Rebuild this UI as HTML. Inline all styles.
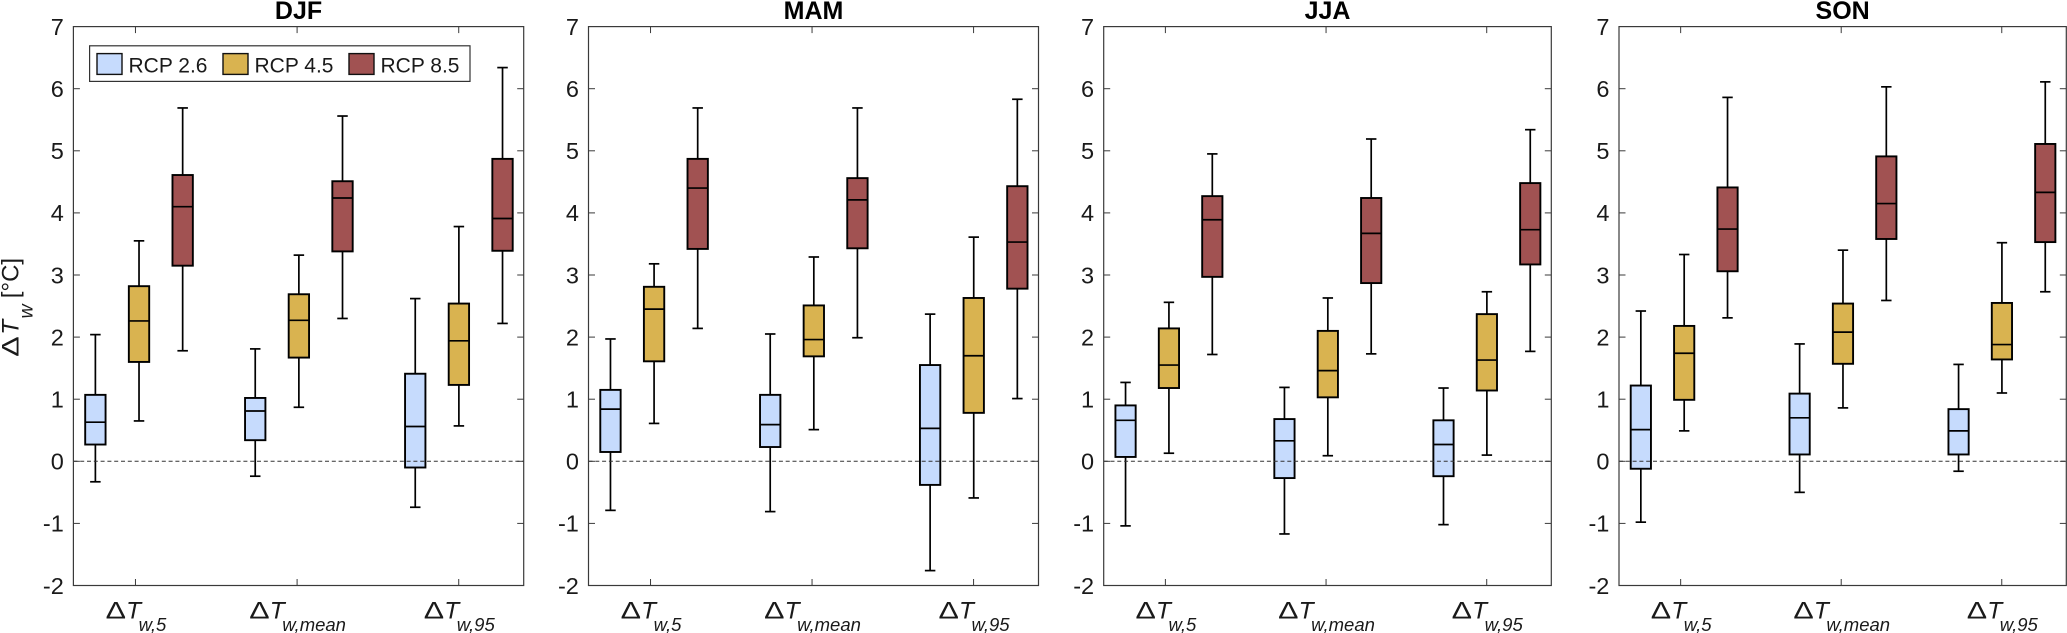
<!DOCTYPE html>
<html lang="en">
<head>
<meta charset="utf-8">
<title>Seasonal change in wet-bulb temperature by RCP scenario</title>
<style>
  html, body { margin: 0; padding: 0; background: #fff; }
  body { width: 2067px; height: 633px; overflow: hidden; }
  svg { display: block; }
  text { font-family: "Liberation Sans", Arial, sans-serif; fill: #1a1a1a; }
</style>
</head>
<body>
<svg id="chart" xmlns="http://www.w3.org/2000/svg" width="2067" height="633" viewBox="0 0 2067 633"></svg>
<script>
// Data: each row is one metric group, as [low whisker, Q1, median, Q3, high whisker]
const seasons = ['DJF', 'MAM', 'JJA', 'SON'];
const scenarios = ['RCP 2.6', 'RCP 4.5', 'RCP 8.5'];
const metricSubscripts = ['w,5', 'w,mean', 'w,95'];
const yTicks = [-2, -1, 0, 1, 2, 3, 4, 5, 6, 7];
const metricPositions = [1.022, 2.011, 3.001];
const xTicks = [1, 2, 3];

const djfRcp26 = [[-0.33, 0.27, 0.63, 1.07, 2.04], [-0.24, 0.34, 0.81, 1.02, 1.81], [-0.74, -0.10, 0.56, 1.41, 2.62]];
const djfRcp45 = [[0.65, 1.60, 2.26, 2.82, 3.55], [0.87, 1.67, 2.27, 2.69, 3.32], [0.57, 1.23, 1.94, 2.54, 3.78]];
const djfRcp85 = [[1.78, 3.15, 4.10, 4.61, 5.69], [2.30, 3.38, 4.24, 4.51, 5.56], [2.22, 3.39, 3.91, 4.87, 6.34]];

const mamRcp26 = [[-0.79, 0.15, 0.84, 1.15, 1.97], [-0.81, 0.23, 0.59, 1.07, 2.05], [-1.76, -0.38, 0.53, 1.55, 2.37]];
const mamRcp45 = [[0.61, 1.61, 2.45, 2.81, 3.18], [0.51, 1.69, 1.96, 2.51, 3.29], [-0.59, 0.78, 1.70, 2.63, 3.61]];
const mamRcp85 = [[2.14, 3.42, 4.40, 4.87, 5.69], [1.99, 3.43, 4.21, 4.56, 5.69], [1.01, 2.78, 3.53, 4.43, 5.83]];

const jjaRcp26 = [[-1.04, 0.07, 0.66, 0.90, 1.27], [-1.17, -0.27, 0.33, 0.68, 1.19], [-1.02, -0.24, 0.27, 0.66, 1.18]];
const jjaRcp45 = [[0.13, 1.18, 1.55, 2.14, 2.56], [0.09, 1.03, 1.46, 2.10, 2.63], [0.10, 1.14, 1.63, 2.37, 2.73]];
const jjaRcp85 = [[1.72, 2.97, 3.89, 4.27, 4.95], [1.73, 2.87, 3.67, 4.24, 5.19], [1.77, 3.17, 3.73, 4.48, 5.34]];

const sonRcp26 = [[-0.98, -0.12, 0.51, 1.22, 2.42], [-0.50, 0.11, 0.70, 1.09, 1.89], [-0.16, 0.11, 0.49, 0.84, 1.56]];
const sonRcp45 = [[0.49, 0.99, 1.74, 2.18, 3.33], [0.86, 1.57, 2.08, 2.54, 3.40], [1.10, 1.64, 1.88, 2.55, 3.52]];
const sonRcp85 = [[2.31, 3.06, 3.74, 4.41, 5.86], [2.59, 3.58, 4.15, 4.91, 6.03], [2.73, 3.53, 4.33, 5.11, 6.11]];

const seasonSeries = [
  [djfRcp26, djfRcp45, djfRcp85],
  [mamRcp26, mamRcp45, mamRcp85],
  [jjaRcp26, jjaRcp45, jjaRcp85],
  [sonRcp26, sonRcp45, sonRcp85]
];

// Layout and style
const SVG_NS = 'http://www.w3.org/2000/svg';
const svg = document.getElementById('chart');
const panelFrames = [
  { left: 73.4, right: 523.7 },
  { left: 588.5, right: 1038.5 },
  { left: 1103.7, right: 1551.3 },
  { left: 1619, right: 2066.3 }
];
const PLOT_TOP = 26.6;
const PLOT_BOTTOM = 585.5;
const X_MIN = 0.616;
const X_MAX = 3.402;
const Y_MIN = -2;
const Y_MAX = 7;
const GROUP_OFFSET = 0.27;
const BOX_WIDTH = 0.126;
const CAP_WIDTH = 0.065;
const fillColors = ['#c6dbfd', '#d9b350', '#a15252'];
const AXIS_COLOR = '#3a3a3a';

function yScale(value) {
  return PLOT_BOTTOM - (value - Y_MIN) / (Y_MAX - Y_MIN) * (PLOT_BOTTOM - PLOT_TOP);
}
function xScale(frame, value) {
  return frame.left + (value - X_MIN) / (X_MAX - X_MIN) * (frame.right - frame.left);
}
function draw(tag, attrs, parent) {
  const node = document.createElementNS(SVG_NS, tag);
  Object.keys(attrs).forEach(function (key) { node.setAttribute(key, attrs[key]); });
  parent.appendChild(node);
  return node;
}
function slug(text) {
  return text.toLowerCase().replace(/[^a-z0-9]+/g, '-');
}

function drawLine(parent, name, x1, y1, x2, y2, stroke, width) {
  const el = draw('line', { x1: x1, y1: y1, x2: x2, y2: y2, stroke: stroke, 'stroke-width': width }, parent);
  
  
  return el;
}

function drawBox(parent, frame, stats, center, fill, name) {
  const [low, q1, median, q3, high] = stats;
  const g = draw('g', {}, parent);
  
  
  const cx = xScale(frame, center);
  const halfBox = xScale(frame, center + BOX_WIDTH / 2) - cx;
  const halfCap = xScale(frame, center + CAP_WIDTH / 2) - cx;
  drawLine(g, 'whisker-upper', cx, yScale(q3), cx, yScale(high), '#000', 1.7);
  drawLine(g, 'whisker-lower', cx, yScale(q1), cx, yScale(low), '#000', 1.7);
  drawLine(g, 'cap-upper', cx - halfCap, yScale(high), cx + halfCap, yScale(high), '#000', 1.7);
  drawLine(g, 'cap-lower', cx - halfCap, yScale(low), cx + halfCap, yScale(low), '#000', 1.7);
  const box = draw('rect', {
    x: cx - halfBox, y: yScale(q3), width: halfBox * 2, height: yScale(q1) - yScale(q3),
    fill: fill, stroke: '#000', 'stroke-width': 1.9
  }, g);
  
  
  drawLine(g, 'median-line', cx - halfBox, yScale(median), cx + halfBox, yScale(median), '#000', 1.7);
}

// The delta glyph in the source figure is wider than in Liberation Sans, so it is stretched.
function drawDeltaT(parent, teeX) {
  const delta = draw('text', { x: 0, y: 0, 'font-size': 24, transform: 'scale(1.27 1)' }, parent);
  
  
  delta.textContent = '\u0394';
  const tee = draw('text', { x: teeX, y: 0, 'font-size': 24.5, 'font-style': 'italic' }, parent);
  
  
  tee.textContent = 'T';
}

function drawMetricLabel(parent, x, subscript) {
  const label = draw('g', {}, parent);
  
  
  drawDeltaT(label, 20.5);
  const sub = draw('text', { x: 33, y: 12.5, 'font-size': 18.5, 'font-style': 'italic' }, label);
  
  
  sub.textContent = subscript;
  const total = 33 + sub.getComputedTextLength();
  label.setAttribute('transform', 'translate(' + (x + 0.5 - total / 2) + ' 618.5)');
}

seasons.forEach(function (season, panelIndex) {
  const frame = panelFrames[panelIndex];
  const panel = draw('g', {}, svg);
  
  

  const title = draw('text', {
    x: (frame.left + frame.right) / 2, y: 19, 'text-anchor': 'middle',
    'font-size': 25, 'font-weight': 'bold', style: 'fill:#000'
  }, panel);
  
  
  title.textContent = season;

  const plotBg = draw('rect', {
    x: frame.left, y: PLOT_TOP, width: frame.right - frame.left, height: PLOT_BOTTOM - PLOT_TOP, fill: '#fff'
  }, panel);
  
  

  yTicks.forEach(function (tick) {
    const y = yScale(tick);
    if (tick !== Y_MIN && tick !== Y_MAX) {
      drawLine(panel, 'y-tick-left', frame.left, y, frame.left + 6.5, y, AXIS_COLOR, 1);
      drawLine(panel, 'y-tick-right', frame.right - 6.5, y, frame.right, y, AXIS_COLOR, 1);
    }
    const label = draw('text', { x: frame.left - 9.6, y: y + 8.3, 'text-anchor': 'end', 'font-size': 23.5 }, panel);
    
    
    label.textContent = String(tick);
  });

  xTicks.forEach(function (tick, i) {
    const x = xScale(frame, tick);
    drawLine(panel, 'x-tick-bottom', x, PLOT_BOTTOM, x, PLOT_BOTTOM - 6.5, AXIS_COLOR, 1);
    drawLine(panel, 'x-tick-top', x, PLOT_TOP, x, PLOT_TOP + 6.5, AXIS_COLOR, 1);
    drawMetricLabel(panel, x, metricSubscripts[i]);
  });

  seasonSeries[panelIndex].forEach(function (scenarioRows, scenarioIndex) {
    scenarioRows.forEach(function (stats, metricIndex) {
      const center = metricPositions[metricIndex] + (scenarioIndex - 1) * GROUP_OFFSET;
      const name = 'box-' + season.toLowerCase() + '-' + slug(scenarios[scenarioIndex]) + '-' + slug(metricSubscripts[metricIndex]);
      drawBox(panel, frame, stats, center, fillColors[scenarioIndex], name);
    });
  });

  const zeroLine = drawLine(panel, 'zero-reference-line', frame.left, yScale(0), frame.right, yScale(0), '#333', 1);
  zeroLine.setAttribute('stroke-dasharray', '4 2.8');

  const border = draw('rect', {
    x: frame.left, y: PLOT_TOP, width: frame.right - frame.left, height: PLOT_BOTTOM - PLOT_TOP,
    fill: 'none', stroke: AXIS_COLOR, 'stroke-width': 1.2
  }, panel);
  
  
});

// Y-axis title
const yTitle = draw('g', { transform: 'translate(18.5 356.7) rotate(-90)' }, svg);


drawDeltaT(yTitle, 22);
const yTitleSub = draw('text', { x: 38.2, y: 14, 'font-size': 19.5, 'font-style': 'italic' }, yTitle);


yTitleSub.textContent = 'w';
const yTitleUnit = draw('text', { x: 58.5, y: 0, 'font-size': 24 }, yTitle);


yTitleUnit.textContent = '[\u00B0C]';

// Legend
const legend = draw('g', {}, svg);


const legendBox = draw('rect', { x: 89.6, y: 45.8, width: 380.4, height: 35.6, fill: '#fff', stroke: '#333', 'stroke-width': 1.2 }, legend);


scenarios.forEach(function (scenario, i) {
  const entryX = 97 + i * 126;
  const entry = draw('g', {}, legend);
  
  
  const swatch = draw('rect', { x: entryX, y: 53.6, width: 25, height: 20.8, fill: fillColors[i], stroke: '#111', 'stroke-width': 1.4 }, entry);
  
  
  const label = draw('text', { x: entryX + 31.5, y: 72.6, 'font-size': 21 }, entry);
  
  
  label.textContent = scenario;
});
</script>
</body>
</html>
